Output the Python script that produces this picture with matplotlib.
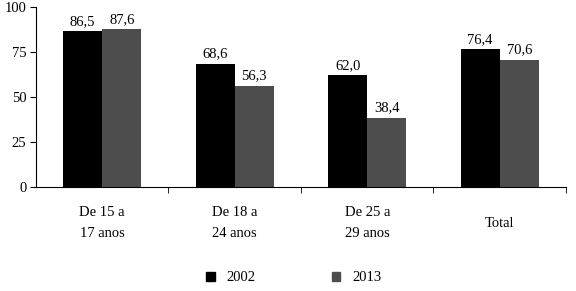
import numpy as np
import matplotlib.pyplot as plt
from matplotlib.patches import Patch

categories = ["De 15 a\n17 anos", "De 18 a\n24 anos", "De 25 a\n29 anos", "Total"]
v2002 = [86.5, 68.6, 62.0, 76.4]
v2013 = [87.6, 56.3, 38.4, 70.6]
series = ["2002", "2013"]
colors = ["#000000", "#4d4d4d"]

plt.rcParams['font.family'] = ['Liberation Serif', 'DejaVu Serif']
plt.rcParams['font.size'] = 10.5

fig = plt.figure(figsize=(5.76, 2.91), dpi=100)
ax = fig.add_axes([0.0625, 0.357, 0.92, 0.619])

x = np.arange(len(categories))
w = 0.295
for i, (vals, c) in enumerate(zip([v2002, v2013], colors)):
    pos = x + (i - 0.5) * w
    bars = ax.bar(pos, vals, w, color=c, label=series[i])
    for b, v in zip(bars, vals):
        ax.text(b.get_x() + b.get_width() / 2, v + 2, f"{v:.1f}".replace(".", ","),
                ha="center", va="bottom", fontsize=10.5)

ax.set_xlim(-0.5, len(categories) - 0.5)
ax.set_ylim(0, 100)
ax.set_yticks([0, 25, 50, 75, 100])
ax.set_xticks(x)
ax.set_xticklabels(categories, linespacing=1.8, va='center')
ax.tick_params(axis='x', which='major', length=0, pad=26)
ax.set_xticks(np.arange(len(categories)) + 0.5, minor=True)
ax.tick_params(axis='x', which='minor', length=4, direction='out')
ax.tick_params(axis='y', length=4, direction='out', pad=3)
for s in ['top', 'right']:
    ax.spines[s].set_visible(False)

handles = [Patch(color=c) for c in colors]
fig.legend(handles, series, loc='center', bbox_to_anchor=(0.51, 0.045), ncol=2,
           frameon=False, handlelength=0.6, handleheight=0.6, columnspacing=5.2,
           handletextpad=0.8, fontsize=10.5)

fig.savefig("out.png", dpi=100)
